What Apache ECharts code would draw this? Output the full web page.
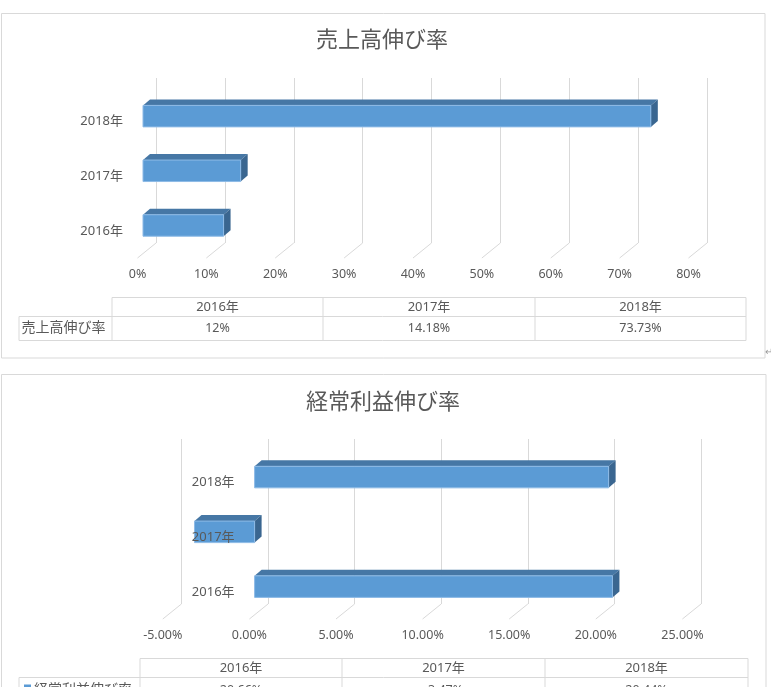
<!DOCTYPE html>
<html><head><meta charset="utf-8">
<script src="https://cdn.jsdelivr.net/npm/echarts@6/dist/echarts.min.js"></script>
<style>html,body{margin:0;padding:0;background:#fff}#c{width:771px;height:687px}</style>
</head><body><div id="c"></div>
<script>
const categories = ['2016年', '2017年', '2018年'];
const salesTitle = '売上高伸び率';
const salesGrowth = [0.117, 0.1418, 0.7373];
const salesTable = ['12%', '14.18%', '73.73%'];
const salesTickValues = [0, 0.1, 0.2, 0.3, 0.4, 0.5, 0.6, 0.7, 0.8];
const salesTicks = ['0%', '10%', '20%', '30%', '40%', '50%', '60%', '70%', '80%'];

const profitTitle = '経常利益伸び率';
const profitGrowth = [0.2066, -0.0347, 0.2044];
const profitTable = ['20.66%', '-3.47%', '20.44%'];
const profitTickValues = [-0.05, 0, 0.05, 0.1, 0.15, 0.2, 0.25];
const profitTicks = ['-5.00%', '0.00%', '5.00%', '10.00%', '15.00%', '20.00%', '25.00%'];

const FONT = '"Noto Sans","Noto Sans CJK JP",sans-serif';
const TXT = '#595959';
const GRID_C = '#d9d9d9';

const chart = echarts.init(document.getElementById('c'));

// chart layouts (style only)
const L1 = {backL: 156, backT: 78, w: 551, h: 165, frontL: 143, frontT: 88.8, frontH: 164, floorDx: -18.5, floorDy: 15, min: 0, max: 0.8, interval: 0.1};
const L2 = {backL: 181.4, backT: 439, w: 519.6, h: 165, frontL: 168, frontT: 449.7, frontH: 164.3, floorDx: -18.6, floorDy: 15, min: -0.05, max: 0.25, interval: 0.05};

const grids = [], xAxes = [], yAxes = [], series = [];

function hiddenX(gi, L) {
  return {gridIndex: gi, type: 'value', min: L.min, max: L.max, interval: L.interval,
    axisLine: {show: false}, axisTick: {show: false}, axisLabel: {show: false}, splitLine: {show: false}};
}
function hiddenY(gi) {
  return {gridIndex: gi, type: 'category', data: categories, show: false};
}

function renderBar(params, api) {
  const v = api.value(0), c = api.value(1);
  const p0 = api.coord([0, c]), p1 = api.coord([v, c]);
  const band = api.size([0, 1])[1];
  const h = band * 0.393;
  const xl = Math.min(p0[0], p1[0]), xr = Math.max(p0[0], p1[0]);
  const yt = p0[1] - h / 2, yb = p0[1] + h / 2;
  const dx = 7, dy = 6;
  return {type: 'group', children: [
    {type: 'polygon', shape: {points: [[xl, yt], [xr, yt], [xr + dx, yt - dy], [xl + dx, yt - dy]]}, style: {fill: '#4677a5'}},
    {type: 'polygon', shape: {points: [[xr, yt], [xr + dx, yt - dy], [xr + dx, yb - dy], [xr, yb]]}, style: {fill: '#3a6690'}},
    {type: 'rect', shape: {x: xl, y: yt, width: xr - xl, height: h}, style: {fill: '#5b9bd5', stroke: '#8dbae6', lineWidth: 1}}
  ]};
}

function buildChart(L, values, tickValues, tickLabels) {
  const g0 = grids.length;
  // x of value 0 on the bar front plane (category axis crosses there)
  const zeroX = L.frontL + (0 - L.min) / (L.max - L.min) * L.w;
  // back wall
  grids.push({left: L.backL, top: L.backT, width: L.w, height: L.h});
  // bar front plane
  grids.push({left: L.frontL, top: L.frontT, width: L.w, height: L.frontH});
  // category labels (axis crossing at zero)
  grids.push({left: zeroX, top: L.frontT + 5.5, width: L.w, height: L.frontH});
  // floor front
  grids.push({left: L.backL + L.floorDx, top: L.backT + L.floorDy, width: L.w, height: L.h});

  const back = hiddenX(g0, L);
  back.splitLine = {show: true, lineStyle: {color: GRID_C, width: 1}};
  xAxes.push(back);
  xAxes.push(hiddenX(g0 + 1, L));
  xAxes.push(hiddenX(g0 + 2, L));
  const floor = hiddenX(g0 + 3, L);
  floor.axisLabel = {show: true, margin: 10, color: TXT, fontSize: 12.5, fontFamily: FONT,
    formatter: (val, idx) => tickLabels[idx]};
  xAxes.push(floor);

  yAxes.push(hiddenY(g0));
  yAxes.push(hiddenY(g0 + 1));
  yAxes.push({gridIndex: g0 + 2, type: 'category', data: categories, z: 10,
    axisLine: {show: false, onZero: false}, axisTick: {show: false}, splitLine: {show: false},
    axisLabel: {show: true, margin: 20, color: TXT, fontSize: 13, fontFamily: FONT}});
  yAxes.push(hiddenY(g0 + 3));

  // floor diagonals
  series.push({type: 'custom', xAxisIndex: g0, yAxisIndex: g0, silent: true,
    data: tickValues.map(t => [t, 0]),
    renderItem: (params, api) => {
      const p = api.coord([api.value(0), 0]);
      const bottom = params.coordSys.y + params.coordSys.height;
      return {type: 'line', shape: {x1: p[0], y1: bottom, x2: p[0] + L.floorDx, y2: bottom + L.floorDy},
        style: {stroke: GRID_C, lineWidth: 1}};
    }});
  // 3D bars
  series.push({type: 'custom', xAxisIndex: g0 + 1, yAxisIndex: g0 + 1, z: 2,
    data: values.map((v, i) => [v, i]), renderItem: renderBar});
}

buildChart(L1, salesGrowth, salesTickValues, salesTicks);
buildChart(L2, profitGrowth, profitTickValues, profitTicks);

// graphics: panel frames, titles, data tables
const graphics = [];
graphics.push({type: 'rect', shape: {x: 1.5, y: 13.5, width: 763.5, height: 344.5}, style: {fill: 'none', stroke: GRID_C, lineWidth: 1}});
graphics.push({type: 'rect', shape: {x: 1.5, y: 374.5, width: 764.5, height: 400}, style: {fill: 'none', stroke: GRID_C, lineWidth: 1}});
graphics.push({type: 'text', x: 765, y: 352, style: {text: '↵', fill: '#9a9a9a', font: '10px ' + FONT, textAlign: 'left', textVerticalAlign: 'middle'}});
graphics.push({type: 'text', x: 382, y: 41, style: {text: salesTitle, fill: TXT, font: '22px ' + FONT, textAlign: 'center', textVerticalAlign: 'middle'}});
graphics.push({type: 'text', x: 383, y: 403, style: {text: profitTitle, fill: TXT, font: '22px ' + FONT, textAlign: 'center', textVerticalAlign: 'middle'}});

function line(x1, y1, x2, y2) {
  graphics.push({type: 'line', shape: {x1, y1, x2, y2}, style: {stroke: GRID_C, lineWidth: 1}});
}
function txt(x, y, s, size, align) {
  graphics.push({type: 'text', x, y, style: {text: s, fill: TXT, font: size + 'px ' + FONT, textAlign: align || 'center', textVerticalAlign: 'middle'}});
}
function table(T, rowLabel, vals, legendKey) {
  const c = T.cols;
  line(c[0], T.top, c[3], T.top);
  line(T.labelL, T.mid, c[3], T.mid);
  line(T.labelL, T.bot, c[3], T.bot);
  line(T.labelL, T.mid, T.labelL, T.bot);
  c.forEach(x => line(x, T.top, x, T.bot));
  for (let i = 0; i < 3; i++) {
    txt((c[i] + c[i + 1]) / 2, (T.top + T.mid) / 2, categories[i], 13);
    txt((c[i] + c[i + 1]) / 2, T.valY, vals[i], 12.5);
  }
  let tx = T.labelL + 2.5;
  if (legendKey) {
    graphics.push({type: 'rect', shape: {x: T.labelL + 5, y: T.valY - 6, width: 7, height: 7}, style: {fill: '#5b9bd5'}});
    tx = T.labelL + 15;
  }
  txt(tx, T.valY, rowLabel, 14, 'left');
}
table({labelL: 19, cols: [112, 323, 535, 746], top: 297.5, mid: 316.5, bot: 340.5, valY: 328.5}, salesTitle, salesTable, false);
table({labelL: 19, cols: [140, 342, 545, 748], top: 658.5, mid: 677.5, bot: 702, valY: 690.5}, profitTitle, profitTable, true);

chart.setOption({
  animation: false,
  backgroundColor: '#fff',
  textStyle: {fontFamily: FONT},
  grid: grids,
  xAxis: xAxes,
  yAxis: yAxes,
  series: series,
  graphic: graphics
});
</script></body></html>
